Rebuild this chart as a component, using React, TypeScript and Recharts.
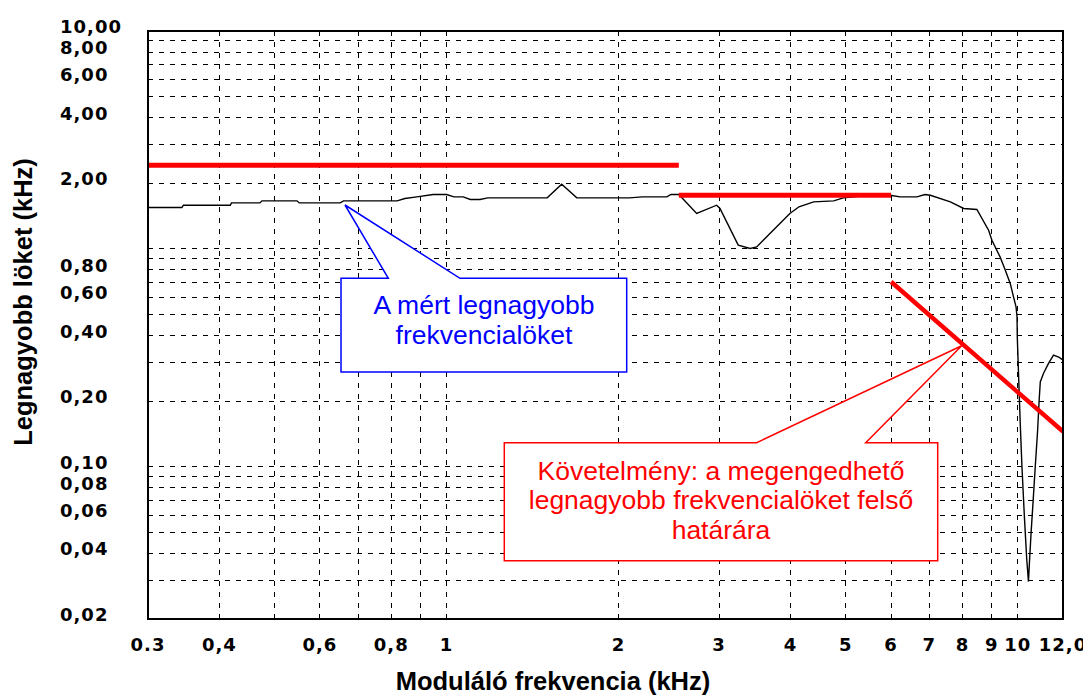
import React from 'react';
import { LineChart, Line, XAxis, YAxis, CartesianGrid } from 'recharts';

// measured curve: modulating frequency (kHz) vs. max deviation (kHz)
const measuredX = [
  0.3, 0.344, 0.346, 0.418, 0.42, 0.471, 0.475, 0.547, 0.552, 0.651, 0.66, 0.819, 0.845, 0.887, 0.947, 1.0,
  1.03, 1.069, 1.1, 1.144, 1.18, 1.5, 1.59, 1.69, 2.09, 2.2, 2.43, 2.47, 2.55, 2.74, 2.97, 3.01, 3.24, 3.4,
  3.49, 3.99, 4.14, 4.39, 4.76, 4.95, 5.37, 5.98, 6.22, 6.66, 6.88, 7.03, 7.62, 8.04, 8.48, 8.89, 9.01, 9.31,
  9.51, 9.7, 9.83, 9.93, 9.97, 9.98, 10.03, 10.1, 10.17, 10.27, 10.37, 10.44, 10.48, 10.55, 10.65, 10.73,
  10.83, 10.9, 10.95, 11.09, 11.32, 11.55, 11.82, 12.11, 12.44,
];
const measuredY = [
  1.549, 1.549, 1.586, 1.586, 1.625, 1.625, 1.661, 1.661, 1.625, 1.625, 1.661, 1.661, 1.703, 1.732, 1.776, 1.776,
  1.732, 1.732, 1.686, 1.686, 1.714, 1.714, 1.981, 1.714, 1.714, 1.732, 1.732, 1.776, 1.776, 1.453, 1.586, 1.532,
  1.04, 1.004, 1.021, 1.453, 1.56, 1.643, 1.661, 1.714, 1.75, 1.763, 1.732, 1.732, 1.776, 1.763, 1.643, 1.532,
  1.516, 1.218, 1.096, 0.919, 0.798, 0.694, 0.602, 0.542, 0.488, 0.395, 0.268, 0.158, 0.1, 0.059, 0.0373,
  0.0297, 0.0361, 0.0495, 0.0729, 0.1, 0.145, 0.202, 0.245, 0.268, 0.298, 0.325, 0.3175, 0.303, 0.283,
];

// requirement (upper limit) segments
const limitLowX = [0.3, 2.55];
const limitLowY = [2.42, 2.42];
const limitMidX = [2.55, 6.0];
const limitMidY = [1.76, 1.76];
const limitHighX = [6.0, 12.0];
const limitHighY = [0.706, 0.145];

const xTicks = [0.3, 0.4, 0.5, 0.6, 0.7, 0.8, 0.9, 1, 2, 3, 4, 5, 6, 7, 8, 9, 10, 12];
const xTickLabels = ['0.3', '0,4', '', '0,6', '', '0,8', '', '1', '2', '3', '4', '5', '6', '7', '8', '9', '10', '12,0'];
const yTicks = [
  0.02, 0.03, 0.04, 0.05, 0.06, 0.07, 0.08, 0.09, 0.1, 0.2, 0.3, 0.4, 0.5, 0.6, 0.7, 0.8, 0.9, 1, 2, 3, 4, 5, 6, 7, 8, 9, 10,
];
const yTickLabels = [
  '0,02', '', '0,04', '', '0,06', '', '0,08', '', '0,10', '0,20', '', '0,40', '', '0,60', '', '0,80', '', '', '2,00', '',
  '4,00', '', '6,00', '', '8,00', '', '10,00',
];

const toPoints = (xs: number[], ys: number[]) => xs.map((x, i) => ({ x, y: ys[i] }));

const measured = toPoints(measuredX, measuredY);
const limitLow = toPoints(limitLowX, limitLowY);
const limitMid = toPoints(limitMidX, limitMidY);
const limitHigh = toPoints(limitHighX, limitHighY);

const W = 1083;
const H = 690;
const PLOT = { left: 140, top: 23, width: 915, height: 588 };

const tickFont = { fontFamily: '"DejaVu Sans", sans-serif', fontWeight: 700, fontSize: 18, letterSpacing: 1, fill: '#000' };
const titleFont = { fontFamily: '"Liberation Sans", Arial, sans-serif', fontWeight: 700, fontSize: 25.5, fill: '#000' };
const noteFont = { fontFamily: '"Liberation Sans", Arial, sans-serif', fontSize: 26.5 };

const XTick = (props: any) => {
  const { x, payload, index } = props;
  const label = xTickLabels[xTicks.indexOf(payload.value)] ?? xTickLabels[index];
  if (!label) return null;
  return (
    <text x={x} y={PLOT.top + PLOT.height + 32} textAnchor="middle" {...tickFont}>
      {label}
    </text>
  );
};

const YTick = (props: any) => {
  const { y, payload, index } = props;
  const label = yTickLabels[yTicks.indexOf(payload.value)] ?? yTickLabels[index];
  if (!label) return null;
  return (
    <text x={52} y={y + 2} textAnchor="start" {...tickFont}>
      {label}
    </text>
  );
};

export default function App() {
  return (
    <div style={{ position: 'relative', width: W, height: H, background: '#fff' }}>
      <LineChart width={W} height={H} margin={{ top: PLOT.top, right: W - PLOT.left - PLOT.width, bottom: 39, left: 0 }}>
        <CartesianGrid stroke="#000" strokeWidth={1} strokeDasharray="5 6" shapeRendering="crispEdges" />
        <XAxis
          type="number"
          dataKey="x"
          scale="log"
          domain={[0.3, 12]}
          allowDataOverflow
          ticks={xTicks}
          interval={0}
          tick={<XTick />}
          tickLine={false}
          axisLine={false}
          height={40}
        />
        <YAxis
          type="number"
          scale="log"
          domain={[0.02, 10]}
          allowDataOverflow
          ticks={yTicks}
          interval={0}
          tick={<YTick />}
          tickLine={false}
          axisLine={false}
          width={PLOT.left}
        />
        <Line data={measured} dataKey="y" stroke="#000" strokeWidth={1.4} dot={false} isAnimationActive={false} />
        <Line data={limitLow} dataKey="y" stroke="#ff0000" strokeWidth={5} dot={false} isAnimationActive={false} />
        <Line data={limitMid} dataKey="y" stroke="#ff0000" strokeWidth={5} dot={false} isAnimationActive={false} />
        <Line data={limitHigh} dataKey="y" stroke="#ff0000" strokeWidth={4.5} dot={false} isAnimationActive={false} />
      </LineChart>

      <svg width={W} height={H} style={{ position: 'absolute', left: 0, top: 0, pointerEvents: 'none' }}>
        <rect x={PLOT.left} y={PLOT.top} width={PLOT.width} height={PLOT.height} fill="none" stroke="#000" strokeWidth={2} />

        <text x={545} y={682} textAnchor="middle" {...titleFont}>
          Moduláló frekvencia (kHz)
        </text>
        <text x={23.5} y={294} textAnchor="middle" transform="rotate(-90, 23.5, 294)" {...titleFont}>
          Legnagyobb löket (kHz)
        </text>

        {/* measured curve callout */}
        <polygon
          points="333,270.3 380.3,270.3 337,197 452,270.3 618.7,270.3 618.7,364 333,364"
          fill="#fff"
          stroke="#0000ff"
          strokeWidth={1.5}
        />
        <text x={476} y={306} textAnchor="middle" fill="#0000ff" {...noteFont}>
          A mért legnagyobb
        </text>
        <text x={476} y={336} textAnchor="middle" fill="#0000ff" {...noteFont}>
          frekvencialöket
        </text>

        {/* requirement callout */}
        <polygon
          points="496.3,434.7 748.7,434.7 953.7,337.7 857.7,434.7 929.7,434.7 929.7,552.7 496.3,552.7"
          fill="#fff"
          stroke="#ff0000"
          strokeWidth={1.5}
        />
        <text x={713} y={472} textAnchor="middle" fill="#ff0000" {...noteFont}>
          Követelmény: a megengedhető
        </text>
        <text x={713} y={501} textAnchor="middle" fill="#ff0000" {...noteFont}>
          legnagyobb frekvencialöket felső
        </text>
        <text x={713} y={531} textAnchor="middle" fill="#ff0000" {...noteFont}>
          határára
        </text>
      </svg>
    </div>
  );
}
